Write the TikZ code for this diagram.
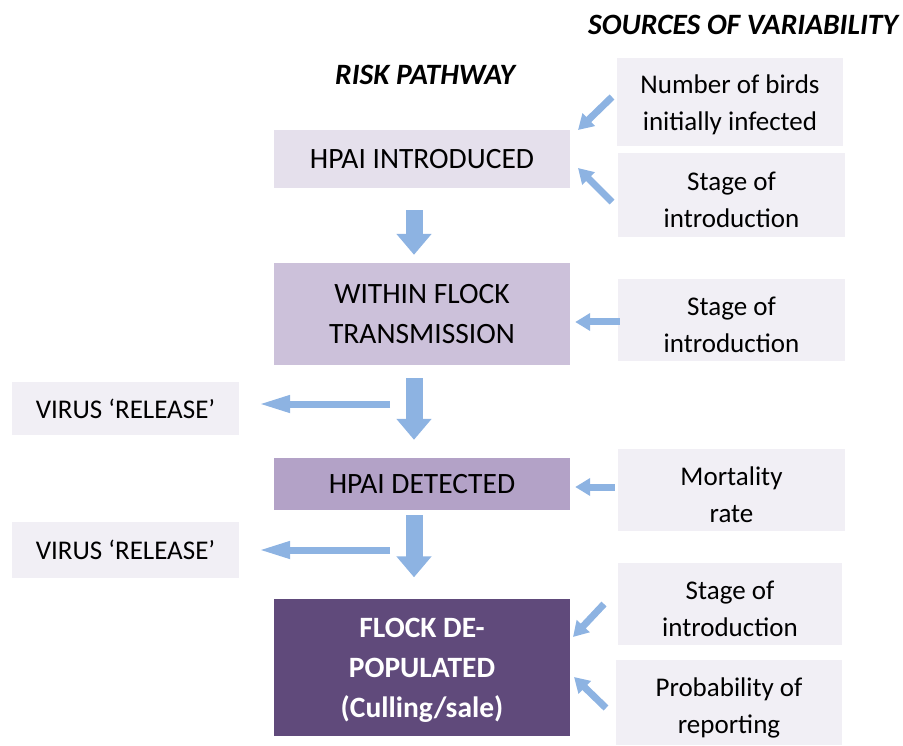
\documentclass[tikz,border=0pt]{standalone}
\usepackage{fontspec}
\setmainfont{Carlito}
\usetikzlibrary{arrows.meta}
\definecolor{introfill}{HTML}{E5E0EC}
\definecolor{transfill}{HTML}{CCC1DA}
\definecolor{detectfill}{HTML}{B3A2C7}
\definecolor{cullfill}{HTML}{604A7B}
\definecolor{sidefill}{HTML}{F1EFF5}
\definecolor{arrowblue}{HTML}{8DB3E2}
\begin{document}
\begin{tikzpicture}[x=1pt,y=-1pt,
  txt/.style={font=\fontsize{27}{37}\selectfont},
  bigtxt/.style={font=\fontsize{29.5}{40}\selectfont},
  title/.style={font=\fontsize{29.5}{35}\selectfont\bfseries\itshape},
  stage/.style={bigtxt,draw=none,inner sep=0pt,minimum width=296pt,align=center},
  srctext/.style={txt,align=center,inner sep=0pt,yshift=-5pt},
  source/.style={fill=sidefill,inner sep=0pt,minimum width=227pt},
  downarrow/.style={draw=arrowblue,line width=17pt,-{Triangle[length=21pt,width=34pt]}},
  sidearrow/.style={draw=arrowblue,line width=7pt,-{Triangle[length=15pt,width=17pt]}},
  leftarrow/.style={draw=arrowblue,line width=7pt,-{Triangle[length=32pt,width=16pt]}}]
\useasboundingbox (0,0) rectangle (903,746);

% headings
\node[title] (h1) at (743,25) {SOURCES OF VARIABILITY};
\node[title] (h2) at (425,75) {RISK PATHWAY};

% risk pathway stages
\node[stage,fill=introfill,minimum height=58pt] (b1) at (422,159) {HPAI INTRODUCED};
\node[stage,fill=transfill,minimum height=102pt] (b2) at (422,314) {WITHIN FLOCK\\TRANSMISSION};
\node[stage,fill=detectfill,minimum height=52pt] (b3) at (422,484) {\raisebox{-2pt}{HPAI DETECTED}};
\node[stage,fill=cullfill,minimum height=137pt,text=white,font=\fontsize{29.5}{40}\selectfont\bfseries] (b4) at (422,667) {\rule{0pt}{26pt}FLOCK DE-\\POPULATED\\(Culling/sale)};

% sources of variability
\node[source,minimum width=226pt,minimum height=88pt,
  label={[srctext,yshift=2pt]center:Number of birds\\initially infected}] (s1) at (730,102) {};
\node[source,minimum height=84pt,
  label={[srctext]center:Stage of\\introduction}] (s2) at (731.5,195) {};
\node[source,minimum height=82pt,
  label={[srctext]center:Stage of\\introduction}] (s3) at (731.5,320) {};
\node[source,minimum height=82pt,
  label={[srctext]center:Mortality\\rate}] (s4) at (731.5,490) {};
\node[source,minimum width=224pt,minimum height=82pt,
  label={[srctext]center:Stage of\\introduction}] (s5) at (730,604) {};
\node[source,minimum width=226pt,minimum height=85pt,
  label={[srctext]center:Probability of\\reporting}] (s6) at (729,702.5) {};

% virus release
\node[source,txt,minimum height=53pt] (v1) at (125.5,408.5) {VIRUS ‘RELEASE’};
\node[source,txt,minimum height=56pt] (v2) at (125.5,550) {VIRUS ‘RELEASE’};

% main flow
\draw[downarrow,shorten <=22pt,shorten >=8pt] ([xshift=-8pt]b1.south) -- ([xshift=-8pt]b2.north);
\draw[downarrow,shorten <=13pt,shorten >=18pt] ([xshift=-8pt]b2.south) -- ([xshift=-8pt]b3.north);
\draw[downarrow,shorten <=5pt,shorten >=21pt] ([xshift=-8pt]b3.south) -- ([xshift=-8pt]b4.north);

% release arrows
\coordinate (r1) at (390,404);
\coordinate (r2) at (390,550);
\draw[leftarrow,shorten >=19pt] (r1) -- (v1.east |- r1);
\draw[leftarrow,shorten >=19pt] (r2) -- (v2.east |- r2);

% sources feeding into the stages
\coordinate (t1) at (578,130);
\coordinate (t2) at (578,168);
\coordinate (t5) at (573,637);
\coordinate (t6) at (574,677);
\coordinate (f1) at (612,97);
\coordinate (f2) at (612,202);
\coordinate (f5) at (604,604);
\coordinate (f6) at (606,708);
\draw[sidearrow] (f1) -- (t1);
\draw[sidearrow] (f2) -- (t2);
\draw[sidearrow] (f5) -- (t5);
\draw[sidearrow] (f6) -- (t6);
\draw[sidearrow,shorten <=-2pt,shorten >=5pt] (s3.west |- 0,322) -- (b2.east |- 0,322);
\draw[sidearrow,shorten <=3pt,shorten >=5pt] (s4.west |- 0,487) -- (b3.east |- 0,487);
\end{tikzpicture}
\end{document}
